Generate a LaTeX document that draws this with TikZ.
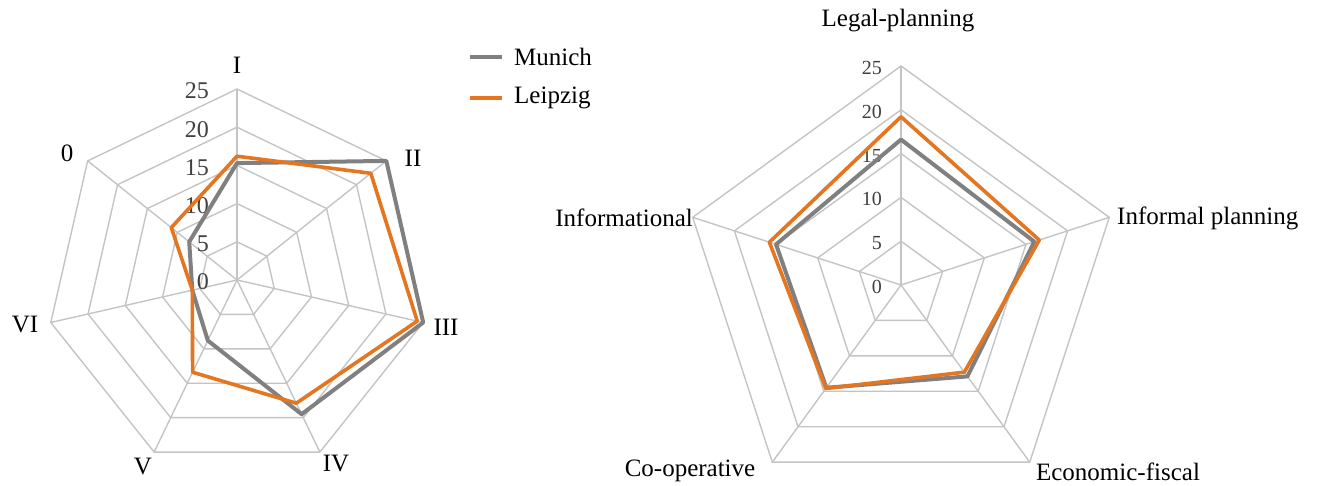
\documentclass[tikz,border=0pt]{standalone}
\usepackage{tikz}
\usepackage{xcolor}
\usepackage{fontspec}
\setmainfont{Liberation Serif}
\usetikzlibrary{positioning,calc}
\definecolor{gridgray}{RGB}{196,196,196}
\definecolor{munichgray}{RGB}{128,128,128}
\definecolor{leipzigorange}{RGB}{228,118,34}

\begin{document}
\begin{tikzpicture}[x=1pt,y=1pt]
    % Define styles
    \tikzstyle{gridline} = [draw=gridgray, line width=1.4pt]
    \tikzstyle{munichline} = [draw=munichgray, line width=4pt, line join=round]
    \tikzstyle{leipzigline} = [draw=leipzigorange, line width=3.6pt, line join=round]
    \tikzstyle{axislabel} = [inner sep=0pt, font=\fontsize{25}{30}\selectfont]
    \tikzstyle{ticklabel} = [inner sep=0pt, anchor=east, text=black!75, font=\fontsize{24}{28}\selectfont]
    \tikzstyle{smalltick} = [inner sep=0pt, anchor=east, text=black!75, font=\fontsize{20}{24}\selectfont]

    \useasboundingbox (0,0) rectangle (1317,486);

    % Left chart: seven types
    \begin{scope}[shift={(237,206)}]
        \foreach \r in {5,10,...,25}
            \draw[gridline] (90:{\r*7.64}) \foreach \k in {1,...,6} {-- ({90-\k*360/7}:{\r*7.64})} -- cycle;
        \foreach \k in {0,...,6} {
            \coordinate (lv\k) at ({90-\k*360/7}:191);
            \draw[gridline] (0,0) -- (lv\k);
        }
        \foreach \r in {0,5,...,25}
            \node[ticklabel] (ltick\r) at (-28,{\r*7.64-2}) {\r};

        % Munich
        \foreach \v [count=\k from 0] in {15.3,25,25,19.5,8.8,6,8}
            \coordinate (lm\k) at ({90-\k*360/7}:{\v*7.64});
        \draw[munichline] (lm0) -- (lm1) -- (lm2) -- (lm3) -- (lm4) -- (lm5) -- (lm6) -- cycle;
        % Leipzig
        \foreach \v [count=\k from 0] in {16.2,22.4,24.2,17.9,13.4,6,11}
            \coordinate (ll\k) at ({90-\k*360/7}:{\v*7.64});
        \draw[leipzigline] (ll0) -- (ll1) -- (ll2) -- (ll3) -- (ll4) -- (ll5) -- (ll6) -- cycle;
    \end{scope}

    % Axis names, left
    \node[axislabel] (typeI) at (237,421) {I};
    \node[axislabel] (typeII) at (413,328) {II};
    \node[axislabel] (typeIII) at (446,159) {III};
    \node[axislabel] (typeIV) at (336,22) {IV};
    \node[axislabel] (typeV) at (143,19) {V};
    \node[axislabel] (typeVI) at (25,161) {VI};
    \node[axislabel] (typeO) at (67,333) {0};

    % Legend
    \coordinate (munichA) at (470,429);
    \coordinate (munichB) at (502,429);
    \coordinate (leipzigA) at (470,388);
    \coordinate (leipzigB) at (502,388);
    \draw[munichline] (munichA) -- (munichB);
    \draw[leipzigline] (leipzigA) -- (leipzigB);
    \node[axislabel, anchor=west] (munichkey) at (514,429) {Munich};
    \node[axislabel, anchor=west] (leipzigkey) at (514,388) {Leipzig};

    % Right chart: five instruments
    \begin{scope}[shift={(901,201)}]
        \foreach \r in {5,10,...,25}
            \draw[gridline] (90:{\r*8.76}) \foreach \k in {1,...,4} {-- ({90-\k*72}:{\r*8.76})} -- cycle;
        \foreach \k in {0,...,4} {
            \coordinate (rv\k) at ({90-\k*72}:219);
            \draw[gridline] (0,0) -- (rv\k);
        }
        \foreach \r in {0,5,...,25}
            \node[smalltick] (rtick\r) at (-19,{\r*8.76-2}) {\r};

        % Munich
        \foreach \v [count=\k from 0] in {16.6,16,12.9,14.5,15}
            \coordinate (rm\k) at ({90-\k*72}:{\v*8.76});
        \draw[munichline] (rm0) -- (rm1) -- (rm2) -- (rm3) -- (rm4) -- cycle;
        % Leipzig
        \foreach \v [count=\k from 0] in {19.2,16.6,12.3,14.6,15.8}
            \coordinate (rl\k) at ({90-\k*72}:{\v*8.76});
        \draw[leipzigline] (rl0) -- (rl1) -- (rl2) -- (rl3) -- (rl4) -- cycle;
    \end{scope}

    % Axis names, right
    \node[axislabel] (legal) at (898,465) {Legal-planning};
    \node[axislabel, anchor=west] (informal) at (1117,268) {Informal planning};
    \node[axislabel] (economic) at (1118,14) {Economic-fiscal};
    \node[axislabel] (cooperative) at (690,15) {Co-operative};
    \node[axislabel, anchor=east] (informational) at (693,268) {Informational};

\end{tikzpicture}
\end{document}
